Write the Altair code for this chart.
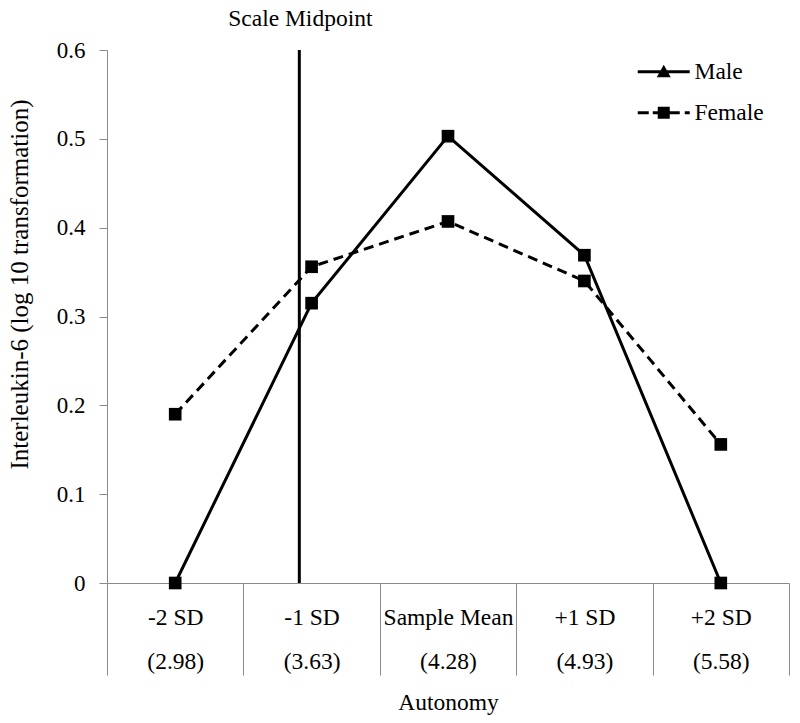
import json
import altair as alt
import pandas as pd

# ---- data ----
cat_top = ["-2 SD", "-1 SD", "Sample Mean", "+1 SD", "+2 SD"]
cat_bottom = ["(2.98)", "(3.63)", "(4.28)", "(4.93)", "(5.58)"]
male = [0.0, 0.315, 0.503, 0.369, 0.0]
female = [0.190, 0.356, 0.407, 0.340, 0.156]
y_ticks = [0.0, 0.1, 0.2, 0.3, 0.4, 0.5, 0.6]
scale_midpoint_pos = 1.41  # position on the category axis (between -2 SD and -1 SD)
midpoint_label = "Scale Midpoint"
groups = ["Male", "Female"]

rows = []
for i, c in enumerate(cat_top):
    rows.append({"pos": i + 0.5, "cat": c, "group": "Male", "value": male[i]})
    rows.append({"pos": i + 0.5, "cat": c, "group": "Female", "value": female[i]})
df = pd.DataFrame(rows)

n = len(cat_top)
x_vals = [k / 2 for k in range(0, 2 * n + 1)]
label_expr = (
    "datum.value % 1 == 0 ? '' : ["
    + json.dumps(cat_top) + "[floor(datum.value)], "
    + json.dumps(cat_bottom) + "[floor(datum.value)]]"
)

FONT = "Liberation Serif, Times New Roman, serif"
GRAY = "#8a8a8a"
FS = 23.5

x_enc = alt.X(
    "pos:Q",
    scale=alt.Scale(domain=[0, n], nice=False, zero=False),
    axis=alt.Axis(
        title="Autonomy",
        values=x_vals,
        labelExpr=label_expr,
        grid=False,
        domainColor=GRAY,
        tickColor=GRAY,
        tickWidth=1,
        tickSize=92,
        tickOpacity={"condition": {"test": "datum.value % 1 == 0", "value": 1}, "value": 0},
        labelPadding=-70,
        labelBaseline="top",
        labelAlign="center",
        labelLineHeight=44,
        labelOverlap=False,
        labelBound=False,
        labelFlush=False,
        labelFontSize=FS,
        labelColor="black",
        titleFontSize=FS,
        titleFontWeight="normal",
        titleY=119,
        titleBaseline="middle",
    ),
)

y_enc = alt.Y(
    "value:Q",
    scale=alt.Scale(domain=[0, 0.6], nice=False),
    axis=alt.Axis(
        title="Interleukin-6 (log 10 transformation)",
        values=y_ticks,
        format=".1~f",
        grid=False,
        domainColor=GRAY,
        tickColor=GRAY,
        tickSize=8,
        labelPadding=14,
        labelFontSize=23,
        labelColor="black",
        titleFontSize=25,
        titleFontWeight="normal",
        titleX=-88,
        titleY=234,
        titleBaseline="middle",
    ),
)

# legend symbols: line (or dashes) with a marker, drawn as filled paths
# unit = 7 px (symbolSize 196)
tri_path = (
    "M-3.714,-0.214L3.714,-0.214L3.714,0.214L-3.714,0.214Z"
    "M0,-1.0L1.0,0.8L-1.0,0.8Z"
)
sq_path = (
    "M-3.714,-0.214L-2.143,-0.214L-2.143,0.214L-3.714,0.214Z"
    "M-1.571,-0.214L-0.857,-0.214L-0.857,0.214L-1.571,0.214Z"
    "M-0.857,-0.857L0.857,-0.857L0.857,0.857L-0.857,0.857Z"
    "M0.857,-0.214L2.286,-0.214L2.286,0.214L0.857,0.214Z"
    "M3.0,-0.214L3.714,-0.214L3.714,0.214L3.0,0.214Z"
)

line_male = alt.Chart(df).transform_filter(alt.datum.group == "Male").mark_line(
    color="black", strokeWidth=3
).encode(x=x_enc, y=y_enc)

line_female = alt.Chart(df).transform_filter(alt.datum.group == "Female").mark_line(
    color="black", strokeWidth=3, strokeDash=[10, 6]
).encode(x=alt.X("pos:Q"), y=alt.Y("value:Q"))

# legend-only layer (no rows drawn) supplying the legend's line+marker symbols
legend_layer = alt.Chart(df).transform_filter("false").mark_point(
    filled=True, color="black", size=196, opacity=1
).encode(
    x=alt.X("pos:Q"),
    y=alt.Y("value:Q"),
    shape=alt.Shape(
        "group:N",
        scale=alt.Scale(domain=groups, range=[tri_path, sq_path]),
        legend=alt.Legend(
            title=None,
            orient="none",
            legendX=545,
            legendY=10,
            padding=0,
            symbolSize=196,
            symbolFillColor="black",
            symbolStrokeWidth=0,
            symbolOpacity=1,
            labelFontSize=FS,
            labelColor="black",
            labelOffset=19,
            rowPadding=16,
        ),
    ),
)

points = alt.Chart(df).mark_square(size=160, color="black", opacity=1).encode(
    x=alt.X("pos:Q"),
    y=alt.Y("value:Q"),
    detail="group:N",
)

mid_df = pd.DataFrame({"pos": [scale_midpoint_pos], "label": [midpoint_label]})
mid_rule = alt.Chart(mid_df).mark_rule(color="black", strokeWidth=3).encode(
    x=alt.X("pos:Q"),
    y=alt.value(0),
    y2=alt.value(533),
)
mid_text = alt.Chart(mid_df).mark_text(
    font=FONT, fontSize=FS, color="black", dx=1, baseline="middle", align="center"
).encode(
    x=alt.X("pos:Q"),
    y=alt.value(-31),
    text="label:N",
)

chart = (
    alt.layer(mid_rule, line_male, line_female, points, legend_layer, mid_text)
    .properties(
        width=682,
        height=533,
        autosize=alt.AutoSizeParams(type="none"),
        padding={"left": 99, "top": 42, "right": 3, "bottom": 132},
    )
    .configure(font=FONT)
    .configure_view(stroke=None)
    .configure_axis(labelFont=FONT, titleFont=FONT)
    .configure_legend(labelFont=FONT)
)

chart.save("out.html", embed_options={"renderer": "svg", "actions": False})
